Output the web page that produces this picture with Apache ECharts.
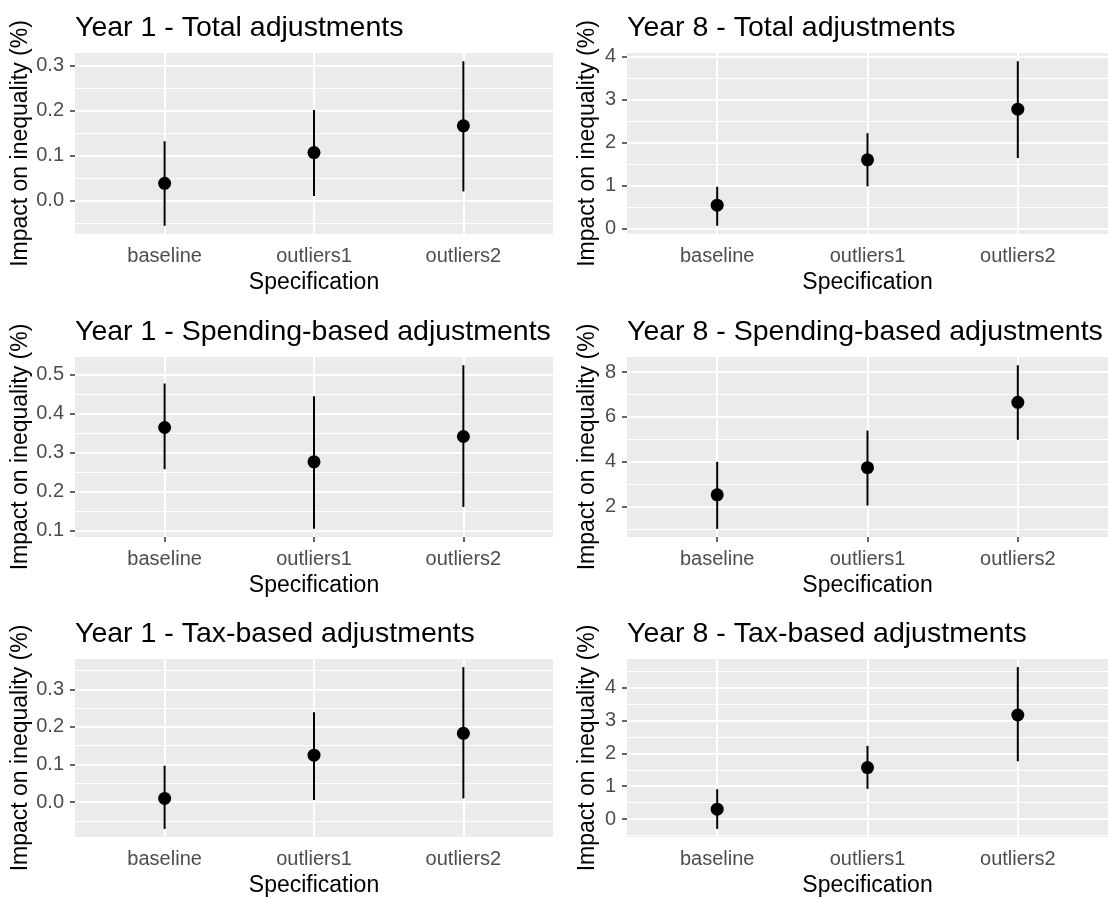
<!DOCTYPE html>
<html>
<head>
<meta charset="utf-8">
<script src="https://cdn.jsdelivr.net/npm/echarts@6/dist/echarts.min.js"></script>
<style>
html,body{margin:0;padding:0;background:#fff;}
#chart{width:1108px;height:898px;}
</style>
</head>
<body>
<div id="chart"></div>
<script>
// ---- data ----
const categories = ['baseline', 'outliers1', 'outliers2'];

const y1TotalEst = [0.039, 0.107, 0.166];
const y1TotalLo  = [-0.055, 0.011, 0.021];
const y1TotalHi  = [0.132, 0.201, 0.309];

const y8TotalEst = [0.54, 1.60, 2.78];
const y8TotalLo  = [0.06, 0.98, 1.64];
const y8TotalHi  = [0.97, 2.22, 3.90];

const y1SpendEst = [0.365, 0.277, 0.342];
const y1SpendLo  = [0.258, 0.105, 0.161];
const y1SpendHi  = [0.478, 0.445, 0.525];

const y8SpendEst = [2.52, 3.73, 6.65];
const y8SpendLo  = [1.00, 2.04, 4.98];
const y8SpendHi  = [3.99, 5.39, 8.31];

const y1TaxEst = [0.010, 0.125, 0.183];
const y1TaxLo  = [-0.071, 0.006, 0.010];
const y1TaxHi  = [0.097, 0.239, 0.359];

const y8TaxEst = [0.30, 1.57, 3.17];
const y8TaxLo  = [-0.30, 0.92, 1.76];
const y8TaxHi  = [0.91, 2.23, 4.63];

const ticksY1Total = [0.0, 0.1, 0.2, 0.3];
const ticksY8Total = [0, 1, 2, 3, 4];
const ticksY1Spend = [0.1, 0.2, 0.3, 0.4, 0.5];
const ticksY8Spend = [2, 4, 6, 8];
const ticksY1Tax   = [0.0, 0.1, 0.2, 0.3];
const ticksY8Tax   = [0, 1, 2, 3, 4];

const titles = [
  'Year 1 - Total adjustments', 'Year 8 - Total adjustments',
  'Year 1 - Spending-based adjustments', 'Year 8 - Spending-based adjustments',
  'Year 1 - Tax-based adjustments', 'Year 8 - Tax-based adjustments'
];
const xTitle = 'Specification';
const yTitle = 'Impact on inequality (%)';

// ---- panels ----
const panels = [
  {est: y1TotalEst, lo: y1TotalLo, hi: y1TotalHi, ticks: ticksY1Total, dec: 1},
  {est: y8TotalEst, lo: y8TotalLo, hi: y8TotalHi, ticks: ticksY8Total, dec: 0},
  {est: y1SpendEst, lo: y1SpendLo, hi: y1SpendHi, ticks: ticksY1Spend, dec: 1},
  {est: y8SpendEst, lo: y8SpendLo, hi: y8SpendHi, ticks: ticksY8Spend, dec: 0},
  {est: y1TaxEst, lo: y1TaxLo, hi: y1TaxHi, ticks: ticksY1Tax, dec: 1},
  {est: y8TaxEst, lo: y8TaxLo, hi: y8TaxHi, ticks: ticksY8Tax, dec: 0}
];

// layout
const colLeft = [75, 627];
const colWidth = [478, 493];
const rowTop = [53, 357, 659];
const rowHeight = [181, 180, 180];
const titleTop = [14, 318, 620];
const yNameGap = [42, 28];

const FONT = "'Liberation Sans', Arial, sans-serif";
const tickColor = '#333333';
const labelColor = '#4D4D4D';

const option = {
  animation: false,
  backgroundColor: '#ffffff',
  title: [], grid: [], xAxis: [], yAxis: [], series: []
};

panels.forEach((p, i) => {
  const col = i % 2, row = Math.floor(i / 2);
  const dataMin = Math.min(...p.lo), dataMax = Math.max(...p.hi);
  const span = dataMax - dataMin;
  const yMin = dataMin - 0.05 * span, yMax = dataMax + 0.05 * span;
  const step = p.ticks[1] - p.ticks[0];
  const minor = [];
  for (let k = -1; k < p.ticks.length; k++) {
    const v = p.ticks[0] + (k + 0.5) * step;
    if (v > yMin && v < yMax) minor.push(+v.toFixed(6));
  }

  option.title.push({
    text: titles[i], left: colLeft[col], top: titleTop[row], padding: 0,
    textStyle: {fontFamily: FONT, fontSize: 28.5, fontWeight: 'normal', color: '#000'}
  });
  option.grid.push({
    left: colLeft[col], top: rowTop[row], width: colWidth[col], height: rowHeight[row],
    show: true, backgroundColor: '#EBEBEB', borderWidth: 0, containLabel: false
  });
  option.xAxis.push({
    type: 'value', gridIndex: i, min: 0.4, max: 3.6,
    name: xTitle, nameLocation: 'middle', nameGap: 37,
    nameTextStyle: {fontFamily: FONT, fontSize: 23, color: '#000'},
    axisLine: {show: false},
    axisTick: {show: true, length: 5, customValues: [1, 2, 3], lineStyle: {color: tickColor, width: 1.5}},
    axisLabel: {show: true, customValues: [1, 2, 3], margin: 12, fontFamily: FONT, fontSize: 20, color: labelColor,
      formatter: v => categories[Math.round(v) - 1] || ''},
    splitLine: {show: false}, minorSplitLine: {show: false}
  });
  option.yAxis.push({
    type: 'value', gridIndex: i, min: yMin, max: yMax,
    name: yTitle, nameLocation: 'middle', nameGap: yNameGap[col],
    nameTextStyle: {fontFamily: FONT, fontSize: 23, color: '#000'},
    axisLine: {show: false},
    axisTick: {show: true, length: 5, customValues: p.ticks, lineStyle: {color: tickColor, width: 1.5}},
    axisLabel: {show: true, customValues: p.ticks, margin: 11, fontFamily: FONT, fontSize: 20, color: labelColor,
      formatter: v => Number(v).toFixed(p.dec)},
    splitLine: {show: false}, minorSplitLine: {show: false}
  });
  // gridlines: minor then major
  option.series.push({
    type: 'scatter', xAxisIndex: i, yAxisIndex: i, data: [], z: 1, silent: true,
    markLine: {
      silent: true, symbol: ['none', 'none'], label: {show: false}, animation: false,
      lineStyle: {color: '#ffffff', width: 1.2, type: 'solid'},
      data: minor.map(v => ({yAxis: v}))
    }
  });
  option.series.push({
    type: 'scatter', xAxisIndex: i, yAxisIndex: i, data: [], z: 1, silent: true,
    markLine: {
      silent: true, symbol: ['none', 'none'], label: {show: false}, animation: false,
      lineStyle: {color: '#ffffff', width: 2, type: 'solid'},
      data: p.ticks.map(v => ({yAxis: v})).concat([1, 2, 3].map(v => ({xAxis: v})))
    }
  });
  // error bars
  option.series.push({
    type: 'custom', xAxisIndex: i, yAxisIndex: i, z: 10, silent: true,
    data: categories.map((c, j) => [j + 1, p.lo[j], p.hi[j]]),
    encode: {x: 0, y: [1, 2]},
    renderItem: (params, api) => {
      const a = api.coord([api.value(0), api.value(1)]);
      const b = api.coord([api.value(0), api.value(2)]);
      return {type: 'line', shape: {x1: a[0], y1: a[1], x2: b[0], y2: b[1]},
        style: {stroke: '#000', lineWidth: 2}};
    }
  });
  // points
  option.series.push({
    type: 'scatter', xAxisIndex: i, yAxisIndex: i, z: 11, silent: true,
    symbol: 'circle', symbolSize: 13, itemStyle: {color: '#000', opacity: 1},
    data: categories.map((c, j) => [j + 1, p.est[j]])
  });
});

const chart = echarts.init(document.getElementById('chart'), null, {renderer: 'canvas'});
chart.setOption(option);
</script>
</body>
</html>
